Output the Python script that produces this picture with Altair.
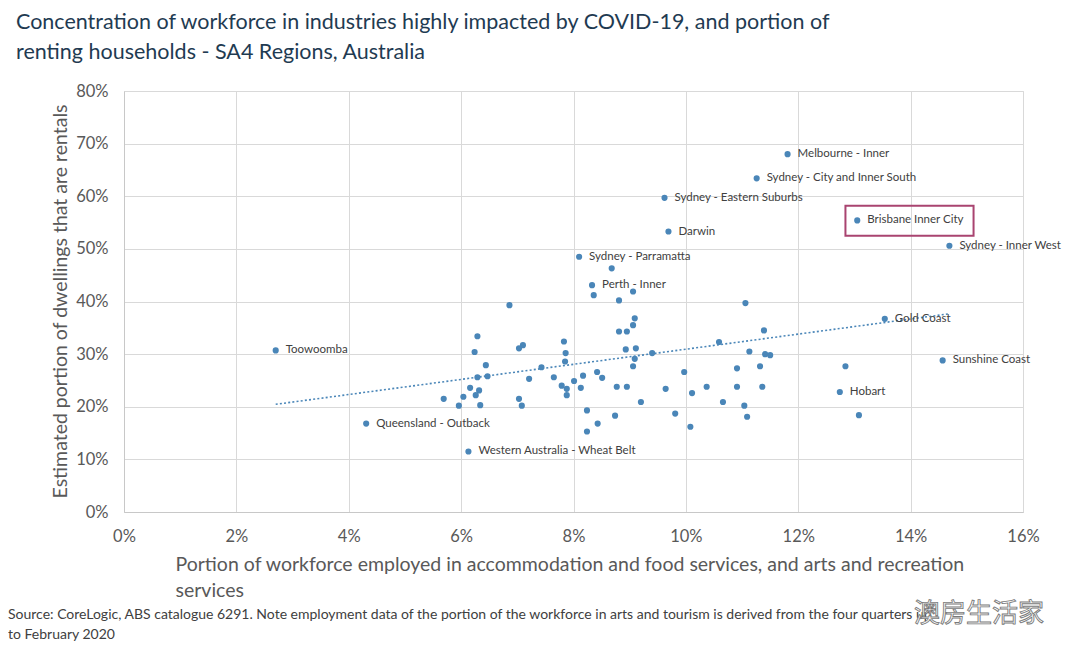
import altair as alt
import pandas as pd

# ---- data (percent units) ----
labels = [
    "Toowoomba", "Queensland - Outback", "Western Australia - Wheat Belt",
    "Sydney - Parramatta", "Perth - Inner", "Sydney - Eastern Suburbs", "Darwin",
    "Melbourne - Inner", "Sydney - City and Inner South", "Brisbane Inner City",
    "Sydney - Inner West", "Gold Coast", "Sunshine Coast", "Hobart",
]
labelled_x = [2.70, 4.31, 6.13, 8.10, 8.33, 9.62, 9.69, 11.81, 11.26, 13.05, 14.69, 13.54, 14.57, 12.74]
labelled_y = [30.7, 16.8, 11.5, 48.5, 43.1, 59.7, 53.3, 68.0, 63.4, 55.4, 50.6, 36.7, 28.8, 22.8]

other_x = [
    8.68, 8.36, 9.06, 8.81, 11.06, 6.86, 9.09, 9.06, 8.81, 8.95, 11.39, 6.29,
    7.83, 10.59, 7.10, 7.03, 6.24, 7.86, 8.93, 9.11, 9.40, 11.13, 11.41, 11.50,
    7.85, 9.09, 6.44, 9.06, 7.43, 9.97, 10.91, 11.32, 12.84, 6.29, 6.47, 7.21,
    7.65, 8.17, 8.42, 8.51, 8.01, 7.79, 7.88, 8.13, 6.16, 6.32, 6.26, 7.88,
    8.77, 8.95, 9.64, 10.37, 10.91, 11.36, 10.11, 5.69, 6.04, 7.03, 9.20, 10.66,
    5.96, 6.34, 7.08, 11.04, 11.09, 8.24, 8.74, 9.81, 13.08, 8.43, 8.24, 10.08,
]
other_y = [
    46.3, 41.2, 41.9, 40.2, 39.7, 39.3, 36.8, 35.5, 34.3, 34.3, 34.5, 33.4,
    32.4, 32.3, 31.7, 31.1, 30.4, 30.2, 30.9, 31.1, 30.2, 30.5, 30.0, 29.8,
    28.6, 29.1, 27.9, 27.7, 27.5, 26.6, 27.3, 27.7, 27.7, 25.6, 25.8, 25.3,
    25.6, 25.9, 26.6, 25.5, 24.9, 24.0, 23.4, 23.6, 23.6, 23.1, 22.2, 22.2,
    23.8, 23.8, 23.4, 23.8, 23.8, 23.8, 22.6, 21.5, 21.9, 21.5, 20.9, 20.9,
    20.2, 20.3, 20.2, 20.2, 18.1, 19.3, 18.3, 18.7, 18.4, 16.8, 15.3, 16.2,
]

x_ticks = [0, 0.02, 0.04, 0.06, 0.08, 0.10, 0.12, 0.14, 0.16]
y_ticks = [0, 0.1, 0.2, 0.3, 0.4, 0.5, 0.6, 0.7, 0.8]

title_lines = [
    "Concentration of workforce in industries highly impacted by COVID-19, and portion of",
    "renting households - SA4 Regions, Australia",
]
x_title = [
    "Portion of workforce employed in accommodation and food services, and arts and recreation",
    "services",
]
y_title = "Estimated portion of dwellings that are rentals"
source_lines = [
    "Source: CoreLogic, ABS catalogue 6291. Note employment  data of the portion of the workforce  in arts and tourism is derived from the four quarters up",
    "to February 2020",
]
watermark = "澳房生活家"
highlight = "Brisbane Inner City"

# ---- build table ----
df = pd.DataFrame({
    "x": [v / 100 for v in labelled_x + other_x],
    "y": [v / 100 for v in labelled_y + other_y],
    "label": labels + [""] * len(other_x),
})

FONT = "Lato"
GREY = "#595959"
DOT = "#4A86B8"

xscale = alt.Scale(domain=[0, 0.16], nice=False)
yscale = alt.Scale(domain=[0, 0.8], nice=False)

base = alt.Chart(df)

xax = alt.Axis(
    format=".0%", values=x_ticks, grid=True, gridColor="#D9D9D9", domainColor="#C8C8C8",
    ticks=False, labelFont=FONT, labelFontSize=16.5, labelColor=GREY, labelPadding=16,
    labelFlush=False, labelOverlap=False,
    title=x_title, titleFont=FONT, titleFontSize=19.5, titleFontWeight="normal",
    titleColor=GREY, titleAlign="left", titleAnchor="start", titleBaseline="alphabetic",
    titleX=51, titleY=58, titleLineHeight=26,
)
yax = alt.Axis(
    format=".0%", values=y_ticks, grid=True, gridColor="#D9D9D9", domainColor="#C8C8C8",
    ticks=False, labelFont=FONT, labelFontSize=16.5, labelColor=GREY, labelPadding=16,
    labelFlush=False, labelOverlap=False,
    title=y_title, titleFont=FONT, titleFontSize=19.5, titleFontWeight="normal",
    titleColor=GREY, titleAngle=270, titleAlign="center", titleBaseline="middle",
    titleX=-64, titleY=210,
)

points = base.mark_circle(size=38, opacity=1, color=DOT).encode(
    x=alt.X("x:Q", scale=xscale, axis=xax),
    y=alt.Y("y:Q", scale=yscale, axis=yax),
)

trend = base.transform_regression("x", "y").mark_line(
    color=DOT, strokeWidth=1.6, strokeDash=[2, 2.2]
).encode(x=alt.X("x:Q", scale=xscale), y=alt.Y("y:Q", scale=yscale))

text = base.transform_filter("datum.label != ''").mark_text(
    align="left", baseline="middle", dx=10, font=FONT, fontSize=11.5, color="#404040"
).encode(x="x:Q", y="y:Q", text="label:N")

box = base.transform_filter(f"datum.label == '{highlight}'").transform_calculate(
    bx="datum.x - 0.0021", bx2="datum.x + 0.0207",
    by="datum.y + 0.028", by2="datum.y - 0.029",
).mark_rect(fillOpacity=0, stroke="#A94470", strokeWidth=2).encode(
    x="bx:Q", x2="bx2:Q", y="by:Q", y2="by2:Q"
)

source1 = alt.Chart(pd.DataFrame({"t": [source_lines[0]]})).mark_text(
    align="left", baseline="middle", font=FONT, fontSize=14, color="#404040"
).encode(x=alt.value(-116), y=alt.value(524), text="t:N")
source2 = alt.Chart(pd.DataFrame({"t": [source_lines[1]]})).mark_text(
    align="left", baseline="middle", font=FONT, fontSize=14, color="#404040"
).encode(x=alt.value(-116), y=alt.value(544), text="t:N")
wm = alt.Chart(pd.DataFrame({"t": [watermark]})).mark_text(
    align="left", baseline="middle", font="Noto Sans CJK SC", fontSize=26,
    fill="#FFFFFF", stroke="#7A7A7A", strokeWidth=0.9,
).encode(x=alt.value(790), y=alt.value(523), text="t:N")

chart = alt.layer(trend, points, text, box, source1, source2, wm).properties(
    width=899, height=421,
    autosize=alt.AutoSizeParams(type="none"),
    padding={"left": 116, "top": 83, "right": 45, "bottom": 135},
    title=alt.TitleParams(
        text=title_lines, anchor="start", frame="group", dx=-108, offset=20,
        font=FONT, fontSize=21.5, fontWeight="normal", color="#1F3B52", lineHeight=30,
    ),
).configure_view(strokeOpacity=0).configure(background="white")

chart.save("out.html", embed_options={"renderer": "svg", "actions": False})
